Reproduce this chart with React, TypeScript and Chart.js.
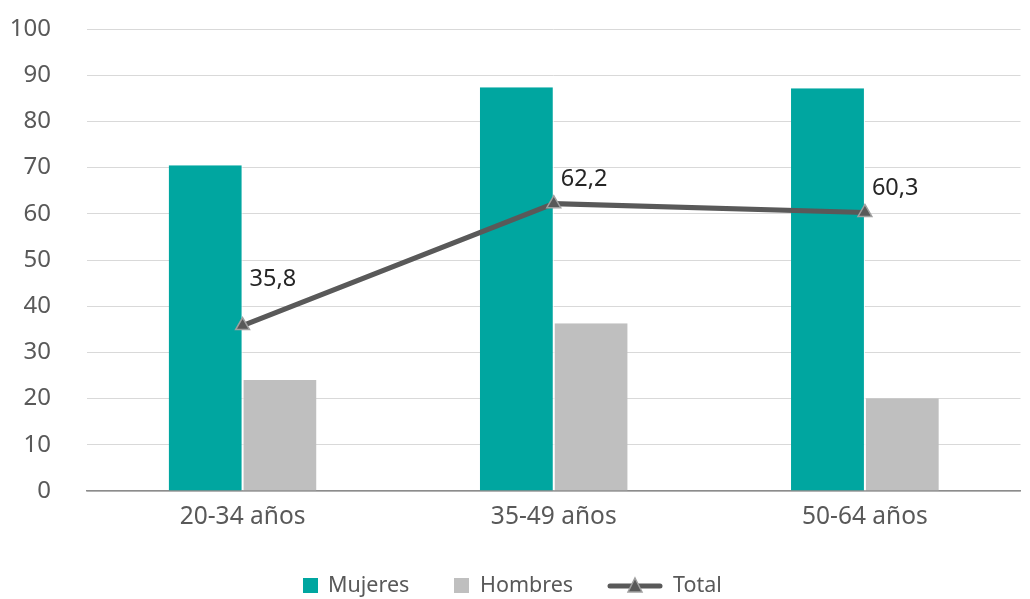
import React, { useEffect, useRef } from "react";
import { Chart, registerables } from "chart.js";

Chart.register(...registerables);

const categories = ["20-34 años", "35-49 años", "50-64 años"];
const mujeres = [70.5, 87.4, 87.2];
const hombres = [24.0, 36.3, 20.1];
const total = [35.8, 62.2, 60.3];
const totalLabels = ["35,8", "62,2", "60,3"];
const labelDy = [46, 24, 24];

const TEAL = "#00A6A0";
const GREY = "#BFBFBF";
const LINE = "#595959";
const FONT = "'Noto Sans', 'Open Sans', sans-serif";

const labelPlugin = {
  id: "totalLabels",
  afterDatasetsDraw(chart: any) {
    const meta = chart.getDatasetMeta(2);
    const ctx = chart.ctx;
    ctx.save();
    ctx.font = `23.5px ${FONT}`;
    ctx.fillStyle = "#262626";
    ctx.textAlign = "left";
    ctx.textBaseline = "middle";
    meta.data.forEach((pt: any, i: number) => {
      ctx.fillText(totalLabels[i], pt.x + 7, pt.y - labelDy[i]);
    });
    ctx.restore();
  },
};

const legendPlugin = {
  id: "customLegend",
  afterDraw(chart: any) {
    const ctx = chart.ctx;
    const y = 586;
    ctx.save();
    ctx.font = `21.5px ${FONT}`;
    ctx.textBaseline = "middle";
    ctx.textAlign = "left";
    ctx.fillStyle = TEAL;
    ctx.fillRect(303, y - 8, 15, 15);
    ctx.fillStyle = "#595959";
    ctx.fillText("Mujeres", 328, y);
    ctx.fillStyle = GREY;
    ctx.fillRect(454, y - 8, 15, 15);
    ctx.fillStyle = "#595959";
    ctx.fillText("Hombres", 480, y);
    ctx.strokeStyle = LINE;
    ctx.lineWidth = 5;
    ctx.lineCap = "round";
    ctx.beginPath();
    ctx.moveTo(610, y);
    ctx.lineTo(660, y);
    ctx.stroke();
    ctx.beginPath();
    ctx.moveTo(635, y - 8);
    ctx.lineTo(642, y + 6);
    ctx.lineTo(628, y + 6);
    ctx.closePath();
    ctx.fillStyle = LINE;
    ctx.fill();
    ctx.strokeStyle = "#A0A0A0";
    ctx.lineWidth = 1.5;
    ctx.stroke();
    ctx.fillStyle = "#595959";
    ctx.fillText("Total", 673, y);
    ctx.restore();
  },
};

export default function App() {
  const ref = useRef<HTMLCanvasElement>(null);
  useEffect(() => {
    if (!ref.current) return;
    const chart = new Chart(ref.current, {
      type: "bar",
      data: {
        labels: categories,
        datasets: [
          {
            type: "bar",
            label: "Mujeres",
            data: mujeres,
            backgroundColor: TEAL,
            borderColor: "#ffffff",
            borderWidth: { left: 0, right: 1, top: 0, bottom: 0 },
            categoryPercentage: 0.475,
            barPercentage: 1,
            order: 2,
          },
          {
            type: "bar",
            label: "Hombres",
            data: hombres,
            backgroundColor: GREY,
            borderColor: "#ffffff",
            borderWidth: { left: 1, right: 0, top: 0, bottom: 0 },
            categoryPercentage: 0.475,
            barPercentage: 1,
            order: 2,
          },
          {
            type: "line",
            label: "Total",
            data: total,
            borderColor: LINE,
            borderWidth: 5,
            pointStyle: "triangle",
            pointRadius: 8,
            pointBackgroundColor: LINE,
            pointBorderColor: "#A0A0A0",
            pointBorderWidth: 1.5,
            order: 1,
          } as any,
        ],
      },
      options: {
        animation: false,
        responsive: false,
        maintainAspectRatio: false,
        layout: { padding: { top: 29, right: 0, left: 0, bottom: 0 } },
        plugins: {
          legend: { display: false },
          tooltip: { enabled: false },
        },
        scales: {
          x: {
            grid: { display: false, drawTicks: false },
            border: { display: true, color: "#8C8C8C", width: 1.5 },
            ticks: {
              color: "#595959",
              font: { family: FONT, size: 24.5 },
              padding: 11,
            },
            afterFit(scale: any) {
              scale.height = 108;
            },
          },
          y: {
            min: 0,
            max: 100,
            ticks: {
              stepSize: 10,
              color: "#595959",
              font: { family: FONT, size: 24 },
              padding: 36,
            },
            grid: { color: "#D9D9D9", lineWidth: 1, drawTicks: false },
            border: { display: false },
            afterFit(scale: any) {
              scale.width = 87;
              scale.paddingTop = 0;
              scale.paddingBottom = 0;
            },
          },
        },
      },
      plugins: [labelPlugin, legendPlugin],
    });
    return () => chart.destroy();
  }, []);
  return (
    <div style={{ position: "fixed", left: 0, top: 0, width: 1030, height: 599, background: "#fff" }}>
      <canvas ref={ref} width={1030} height={599} style={{ display: "block", width: 1030, height: 599 }} />
    </div>
  );
}
